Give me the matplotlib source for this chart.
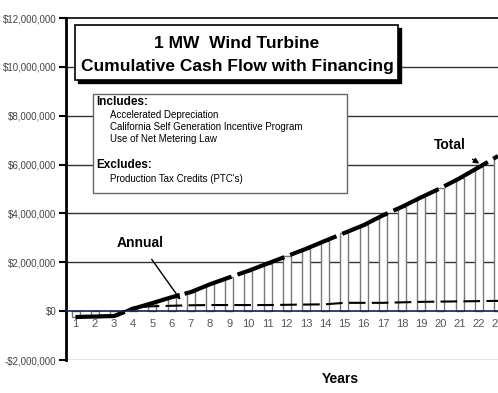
import matplotlib.pyplot as plt
from matplotlib.patches import Rectangle
from matplotlib.ticker import FuncFormatter

plt.rcParams['font.family'] = ['Liberation Sans', 'DejaVu Sans']

years = list(range(1, 24))
total = [-0.24, -0.22, -0.2, 0.1, 0.33, 0.57, 0.78, 1.1, 1.38, 1.65, 1.95, 2.25,
         2.55, 2.88, 3.2, 3.52, 3.92, 4.27, 4.66, 5.03, 5.44, 5.89, 6.35]
annual = [-0.22, -0.2, -0.18, 0.15, 0.2, 0.22, 0.24, 0.25, 0.25, 0.25, 0.25, 0.26,
          0.27, 0.28, 0.34, 0.34, 0.34, 0.36, 0.38, 0.39, 0.4, 0.41, 0.42]
total = [v * 1e6 for v in total]
annual = [v * 1e6 for v in annual]

W, H = 498, 393

def fx(px):
    return px / W

def fy(py):
    return 1 - py / H

fig = plt.figure(figsize=(W / 100, H / 100), dpi=100)
ax = fig.add_axes([fx(66), fy(360), fx(498 - 66), (360 - 18) / H])

ax.set_xlim(0.5, 22.95)
ax.set_ylim(-2e6, 12e6)

for y in range(-2, 13, 2):
    if y == 0 or y == 12:
        continue
    ax.axhline(y * 1e6, color='#777777' if y == -2 else '#333333', lw=1, zorder=1)

ax.bar(years, total, width=0.42, color='white', edgecolor='#777777', lw=1, zorder=2)
ax.plot(years, annual, color='black', lw=1.5, dashes=(8, 3), zorder=3)
ax.plot(years, total, color='black', lw=3, dashes=(12, 1.5), zorder=4)

ax.spines['right'].set_visible(False)
ax.spines['top'].set_color('black')
ax.spines['top'].set_linewidth(1.2)
ax.spines['left'].set_linewidth(2)
ax.spines['bottom'].set_position(('data', 0))
ax.spines['bottom'].set_color('#1a1a66')
ax.spines['bottom'].set_linewidth(1.2)
ax.spines['bottom'].set_zorder(5)

ax.set_yticks([v * 1e6 for v in range(-2, 13, 2)])
ax.yaxis.set_major_formatter(FuncFormatter(
    lambda v, p: ('-$' if v < 0 else '$') + format(int(abs(v)), ',')))
ax.tick_params(axis='y', direction='out', length=5, width=1.5, labelsize=7,
               labelcolor='#444444', pad=2)
ax.set_xticks(years)
ax.set_xticklabels([str(y) for y in years])
ax.tick_params(axis='x', length=0, labelsize=8, labelcolor='#555555', pad=6)

ax.set_xlabel('Years', fontsize=10, fontweight='bold')
ax.xaxis.set_label_coords((340 - 66) / (498 - 66), -0.035)

ax.annotate('Annual', xy=(6.55, 0.37e6), xytext=(4.35, 2.8e6), fontsize=10,
            fontweight='bold', ha='center', va='center',
            arrowprops=dict(arrowstyle='-|>', color='black', lw=1, shrinkA=6,
                            mutation_scale=8))
ax.annotate('Total', xy=(22.15, 5.98e6), xytext=(20.5, 6.8e6), fontsize=10,
            fontweight='bold', ha='center', va='center',
            arrowprops=dict(arrowstyle='-|>', color='black', lw=1, shrinkA=6,
                            mutation_scale=8))

# title box with shadow
fig.patches.append(Rectangle((fx(78), fy(83)), fx(398 - 75), (80 - 25) / H,
                             transform=fig.transFigure, facecolor='black',
                             edgecolor='black', zorder=10))
fig.patches.append(Rectangle((fx(75), fy(80)), fx(398 - 75), (80 - 25) / H,
                             transform=fig.transFigure, facecolor='white',
                             edgecolor='black', lw=1.2, zorder=11))
fig.text(fx(237), fy(43), '1 MW  Wind Turbine', fontsize=12.5, fontweight='bold',
         ha='center', va='center', zorder=12)
fig.text(fx(237), fy(66), 'Cumulative Cash Flow with Financing', fontsize=12.5,
         fontweight='bold', ha='center', va='center', zorder=12)

# includes box
fig.patches.append(Rectangle((fx(93), fy(193)), fx(347 - 93), (193 - 94) / H,
                             transform=fig.transFigure, facecolor='white',
                             edgecolor='#666666', lw=1, zorder=10))
fig.text(fx(96), fy(102), 'Includes:', fontsize=8.5, fontweight='bold',
         va='center', zorder=12)
for i, s in enumerate(['Accelerated Depreciation',
                       'California Self Generation Incentive Program',
                       'Use of Net Metering Law']):
    fig.text(fx(110), fy(115 + 12 * i), s, fontsize=7, va='center', zorder=12)
fig.text(fx(96), fy(165), 'Excludes:', fontsize=8.5, fontweight='bold',
         va='center', zorder=12)
fig.text(fx(110), fy(179), "Production Tax Credits (PTC's)", fontsize=7,
         va='center', zorder=12)

fig.savefig('out.png', dpi=100)
